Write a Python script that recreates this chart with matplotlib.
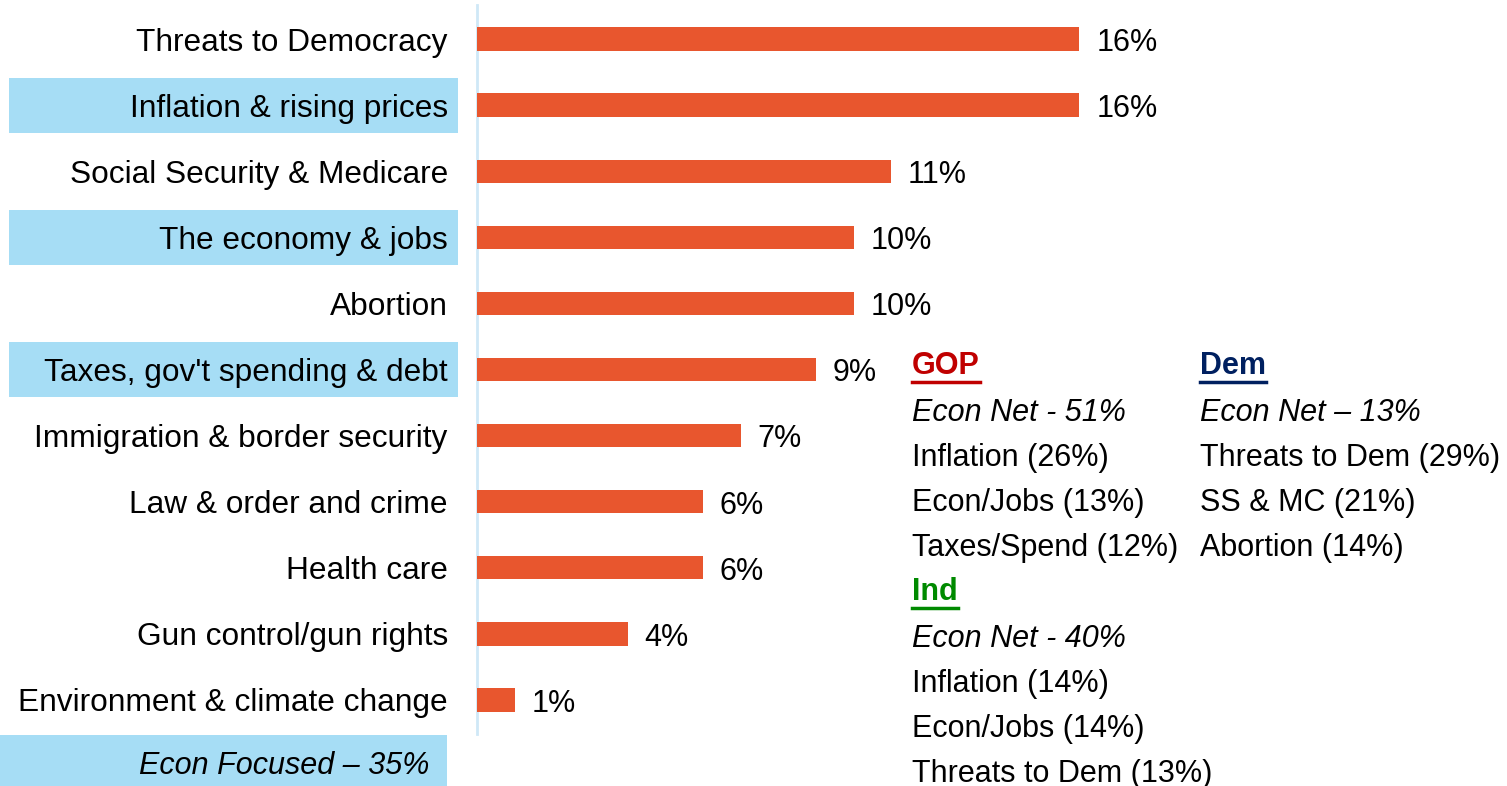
import matplotlib.pyplot as plt
from matplotlib.patches import Rectangle
from matplotlib.lines import Line2D
import matplotlib.transforms as mtransforms

plt.rcParams['font.family'] = ['Liberation Sans', 'DejaVu Sans']

# data
issues = ['Threats to Democracy', 'Inflation & rising prices', 'Social Security & Medicare',
          'The economy & jobs', 'Abortion', "Taxes, gov't spending & debt",
          'Immigration & border security', 'Law & order and crime', 'Health care',
          'Gun control/gun rights', 'Environment & climate change']
shares = [16, 16, 11, 10, 10, 9, 7, 6, 6, 4, 1]
econ_issues = ['Inflation & rising prices', 'The economy & jobs', "Taxes, gov't spending & debt"]
econ_total = 'Econ Focused \u2013 35%'

gop_lines = ['Econ Net - 51%', 'Inflation (26%)', 'Econ/Jobs (13%)', 'Taxes/Spend (12%)']
dem_lines = ['Econ Net \u2013 13%', 'Threats to Dem (29%)', 'SS & MC (21%)', 'Abortion (14%)']
ind_lines = ['Econ Net - 40%', 'Inflation (14%)', 'Econ/Jobs (14%)', 'Threats to Dem (13%)']

W, H = 1507, 786
bar_color = '#E8562E'
box_color = '#A6DDF5'

fig = plt.figure(figsize=(W / 100, H / 100), dpi=100)
ax = fig.add_axes([477 / W, (H - 734) / H, 1030 / W, 729 / H])

ypos = list(range(len(issues)))
ax.barh(ypos, shares, height=0.36, color=bar_color, zorder=3)
ax.set_xlim(0, 1030 / 37.65)
ax.set_ylim(len(issues) - 0.48, -0.52)

for y, v in zip(ypos, shares):
    ax.text(v + 0.45, y + 0.06, f'{v}%', va='center', ha='left', fontsize=22)

ax.set_yticks(ypos)
ax.set_yticklabels(issues, fontsize=22.8)
ax.tick_params(axis='y', length=0, pad=21)
ax.set_xticks([])
for s in ['top', 'right', 'bottom']:
    ax.spines[s].set_visible(False)
ax.spines['left'].set_color('#CFE8F7')
ax.spines['left'].set_linewidth(2)

# highlight boxes behind econ labels
trans = mtransforms.blended_transform_factory(fig.transFigure, ax.transData)
for name in econ_issues:
    y = issues.index(name)
    ax.add_patch(Rectangle((9 / W, y - 0.42), 449 / W, 0.84, transform=trans,
                           facecolor=box_color, edgecolor='none', clip_on=False, zorder=0))

fig.patches.append(Rectangle((0, 0), 447 / W, (H - 735) / H, transform=fig.transFigure,
                             facecolor=box_color, edgecolor='none'))
fig.text(429 / W, 1 - 766 / H, econ_total, ha='right', va='center', fontsize=22, style='italic')

# party breakdowns
step = 44.9


def party_block(x, y0, title, color, lines):
    t = fig.text(x / W, 1 - y0 / H, title, color=color, fontsize=22, fontweight='bold',
                 ha='left', va='center')
    for i, line in enumerate(lines):
        fig.text(x / W, 1 - (y0 + 2 + step * (i + 1)) / H, line, fontsize=22,
                 style='italic' if i == 0 else 'normal', ha='left', va='center')
    return t, color


heads = [party_block(912, 366, 'GOP', '#C00000', gop_lines),
         party_block(1200, 366, 'Dem', '#002060', dem_lines),
         party_block(912, 592, 'Ind', '#008A00', ind_lines)]

fig.canvas.draw()
r = fig.canvas.get_renderer()
for t, color in heads:
    bb = t.get_window_extent(r)
    yl = bb.y0 - 1
    fig.add_artist(Line2D([bb.x0 / W, bb.x1 / W], [yl / H, yl / H], color=color,
                          linewidth=2.5, transform=fig.transFigure))

fig.savefig('out.png', dpi=100)
